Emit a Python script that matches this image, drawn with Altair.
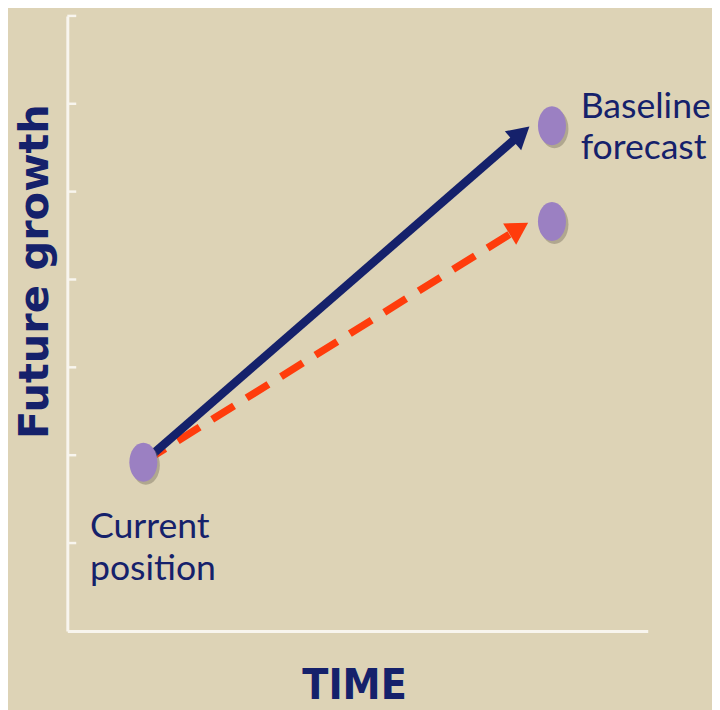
import altair as alt
import pandas as pd

BG = "#ddd3b6"
NAVY = "#15216b"
RED = "#ff3c0c"
PURPLE = "#9b80c2"
AXIS_WHITE = "#f8f5ee"

x_domain = [0, 10]
y_domain = [0, 7]
tick_values = [1, 2, 3, 4, 5, 6, 7]

point_names = ["Current position", "Baseline forecast", "Lower forecast"]
point_x = [1.31, 8.35, 8.35]
point_y = [1.92, 5.75, 4.66]

arrow_names = ["Baseline", "Lower"]
arrow_x0 = [1.31, 1.31]
arrow_y0 = [1.92, 1.92]
arrow_x1 = [7.82, 7.78]
arrow_y1 = [5.66, 4.58]
arrow_angle = [49.2, 58.6]

label_text = ["Current\nposition", "Baseline\nforecast"]
label_x = [1.31, 8.35]
label_y = [1.92, 5.75]

ticks_df = pd.DataFrame({"v": tick_values})
points_df = pd.DataFrame({"name": point_names, "x": point_x, "y": point_y})
arrows_df = pd.DataFrame({"name": arrow_names, "x0": arrow_x0, "y0": arrow_y0,
                          "x1": arrow_x1, "y1": arrow_y1, "angle": arrow_angle})
labels_df = pd.DataFrame({"text": label_text, "x": label_x, "y": label_y})

xs = alt.Scale(domain=x_domain, nice=False, zero=False)
ys = alt.Scale(domain=y_domain, nice=False, zero=False)

x_axis = alt.Axis(title="TIME", ticks=False, labels=False, grid=False,
                  domainColor=AXIS_WHITE, domainWidth=3,
                  titleFont="DejaVu Sans Condensed", titleFontWeight="bold",
                  titleFontSize=43, titleColor=NAVY,
                  titleX=290, titleY=68, titleAlign="center", titleBaseline="alphabetic")
y_axis = alt.Axis(title="Future growth", ticks=False, labels=False, grid=False,
                  domainColor=AXIS_WHITE, domainWidth=3,
                  titleFont="DejaVu Sans", titleFontWeight="bold", titleFontSize=42,
                  titleColor=NAVY, titleAngle=270, titleX=-33, titleY=258,
                  titleAlign="center", titleBaseline="middle")

base_axes = alt.Chart(points_df).mark_point(opacity=0).encode(
    x=alt.X("x:Q", scale=xs, axis=x_axis),
    y=alt.Y("y:Q", scale=ys, axis=y_axis),
)

tick_marks = alt.Chart(ticks_df).mark_rule(color=AXIS_WHITE, strokeWidth=2.5).encode(
    x=alt.value(0), x2=alt.value(9), y=alt.Y("v:Q", scale=ys)
)

red_line = alt.Chart(arrows_df).transform_filter(alt.datum.name == "Lower").mark_rule(
    color=RED, strokeWidth=7.5, strokeDash=[26, 15], strokeCap="butt"
).encode(x=alt.X("x0:Q", scale=xs), y=alt.Y("y0:Q", scale=ys), x2="x1:Q", y2="y1:Q")

navy_line = alt.Chart(arrows_df).transform_filter(alt.datum.name == "Baseline").mark_rule(
    color=NAVY, strokeWidth=8.5, strokeCap="butt"
).encode(x=alt.X("x0:Q", scale=xs), y=alt.Y("y0:Q", scale=ys), x2="x1:Q", y2="y1:Q")

heads = alt.Chart(arrows_df).mark_point(shape="triangle-up", filled=True, size=640, opacity=1).encode(
    x=alt.X("x1:Q", scale=xs), y=alt.Y("y1:Q", scale=ys),
    angle=alt.Angle("angle:Q", scale=None),
    color=alt.Color("name:N", scale=alt.Scale(domain=arrow_names, range=[NAVY, RED]), legend=None),
)

ELLIPSE = "M-0.72,0 A0.72,1 0 1,1 0.72,0 A0.72,1 0 1,1 -0.72,0 Z"
shadows = alt.Chart(points_df).mark_point(shape=ELLIPSE, filled=True, size=1550, color="#7a7060",
                                          opacity=0.45, xOffset=2.5, yOffset=3).encode(
    x=alt.X("x:Q", scale=xs), y=alt.Y("y:Q", scale=ys))
dots = alt.Chart(points_df).mark_point(shape=ELLIPSE, filled=True, size=1550, color=PURPLE,
                                       opacity=1).encode(
    x=alt.X("x:Q", scale=xs), y=alt.Y("y:Q", scale=ys))

LABEL_FONT = "Lato, Liberation Sans, sans-serif"
label_cur = alt.Chart(labels_df).transform_filter(alt.datum.x < 5).mark_text(
    font=LABEL_FONT, fontSize=36, color=NAVY, align="left", baseline="alphabetic",
    lineBreak="\n", lineHeight=42, dx=-54, dy=77
).encode(x=alt.X("x:Q", scale=xs), y=alt.Y("y:Q", scale=ys), text="text:N")
label_base = alt.Chart(labels_df).transform_filter(alt.datum.x > 5).mark_text(
    font=LABEL_FONT, fontSize=36, color=NAVY, align="left", baseline="alphabetic",
    lineBreak="\n", lineHeight=42, dx=29, dy=-8
).encode(x=alt.X("x:Q", scale=xs), y=alt.Y("y:Q", scale=ys), text="text:N")

chart = alt.layer(
    base_axes, tick_marks, red_line, navy_line, heads, shadows, dots, label_cur, label_base
).properties(
    width=587, height=622,
    autosize=alt.AutoSizeParams(type="none"),
    padding={"left": 60, "top": 4, "right": 65, "bottom": 76},
    background=BG,
).configure_view(strokeWidth=0)

chart.save("out.html", embed_options={"renderer": "svg", "actions": False})
